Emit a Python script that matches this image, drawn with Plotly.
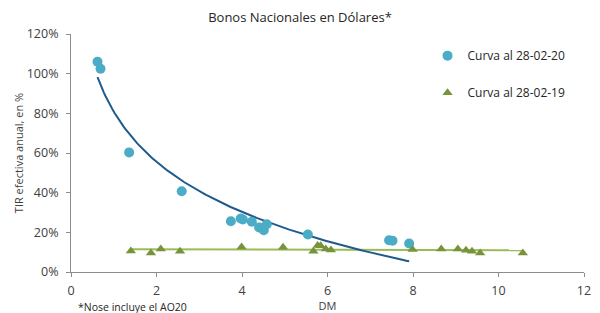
import numpy as np
import plotly.graph_objects as go

# Curva al 28-02-20 (DM, TIR %)
dm_2020 = [0.62, 0.69, 1.36, 2.59, 3.74, 3.97, 4.02, 4.23, 4.40, 4.51, 4.58, 5.54, 7.44, 7.52, 7.91]
tir_2020 = [106.0, 102.5, 60.3, 40.7, 25.6, 27.0, 26.5, 25.3, 22.5, 21.1, 24.1, 18.9, 16.0, 15.8, 14.4]

# Curva al 28-02-19 (DM, TIR %)
dm_2019 = [1.40, 1.87, 2.10, 2.55, 3.99, 4.96, 5.67, 5.77, 5.84, 5.96, 6.08, 7.99, 8.66, 9.05, 9.24, 9.38, 9.57, 10.57]
tir_2019 = [10.6, 9.6, 11.6, 10.5, 12.6, 12.5, 10.5, 13.3, 13.2, 11.6, 11.1, 11.3, 11.6, 11.6, 11.0, 10.5, 9.6, 9.6]

x_ticks = [0, 2, 4, 6, 8, 10, 12]
y_ticks = [0, 20, 40, 60, 80, 100, 120]
y_tick_labels = [f"{v}%" for v in y_ticks]

# Logarithmic trendline for 2020, linear trendline for 2019
x20 = np.array(dm_2020); y20 = np.array(tir_2020)
b, a = np.polyfit(np.log(x20), y20, 1)
xt20 = np.linspace(x20.min(), x20.max(), 200)
yt20 = a + b * np.log(xt20)

x19 = np.array(dm_2019); y19 = np.array(tir_2019)
m, c = np.polyfit(x19, y19, 1)
xt19 = np.array([x19.min(), x19.max()])
yt19 = m * xt19 + c

font = "Open Sans, Lato, sans-serif"
fig = go.Figure()
fig.add_trace(go.Scatter(x=xt19, y=yt19, mode="lines", line=dict(color="#9BBB59", width=2),
                         showlegend=False, hoverinfo="skip"))
fig.add_trace(go.Scatter(x=xt20, y=yt20, mode="lines", line=dict(color="#1F5A8C", width=2),
                         showlegend=False, hoverinfo="skip"))
fig.add_trace(go.Scatter(x=dm_2020, y=tir_2020, mode="markers", name="Curva al 28-02-20",
                         marker=dict(symbol="circle", size=10, color="#4BACC6"), legendgroup="a"))
fig.add_trace(go.Scatter(x=dm_2019, y=tir_2019, mode="markers", name="Curva al 28-02-19",
                         marker=dict(symbol="triangle-up", size=9, color="#77933C"), legendgroup="b"))

axis_common = dict(showgrid=False, zeroline=False, showline=True, linecolor="#8C8C8C", linewidth=1,
                   ticks="outside", tickcolor="#8C8C8C", ticklen=4, automargin=False,
                   tickfont=dict(family=font, size=12.5, color="#404040"))

fig.update_layout(
    width=600, height=313,
    margin=dict(l=71, r=16, t=34, b=41),
    paper_bgcolor="white", plot_bgcolor="white",
    title=dict(text="Bonos Nacionales en Dólares*", x=0.5, xanchor="center", y=0.945, yanchor="middle",
               font=dict(family=font, size=13, color="#262626")),
    xaxis=dict(range=[0, 12], tickvals=x_ticks, ticklabelstandoff=3, **axis_common,
               title=dict(text="DM", font=dict(family=font, size=11, color="#404040"), standoff=8)),
    yaxis=dict(range=[0, 120], tickvals=y_ticks, ticktext=y_tick_labels, ticklabelstandoff=5,
               **axis_common,
               title=dict(text="TIR efectiva anual, en %", font=dict(family=font, size=11, color="#404040"),
                          standoff=0)),
    legend=dict(x=0.695, y=0.97, xanchor="left", yanchor="top", tracegroupgap=18, itemwidth=30,
                font=dict(family=font, size=12, color="#262626"), bgcolor="rgba(0,0,0,0)"),
    annotations=[dict(text="*Nose incluye el AO20", xref="paper", yref="paper", x=0.01, y=-0.11,
                      xanchor="left", yanchor="top", showarrow=False,
                      font=dict(family=font, size=10.5, color="#262626"))],
    showlegend=True,
)

fig.write_html("out.html", config={"displayModeBar": False},
               post_script="document.body.style.margin='0';document.body.style.overflow='hidden';")
